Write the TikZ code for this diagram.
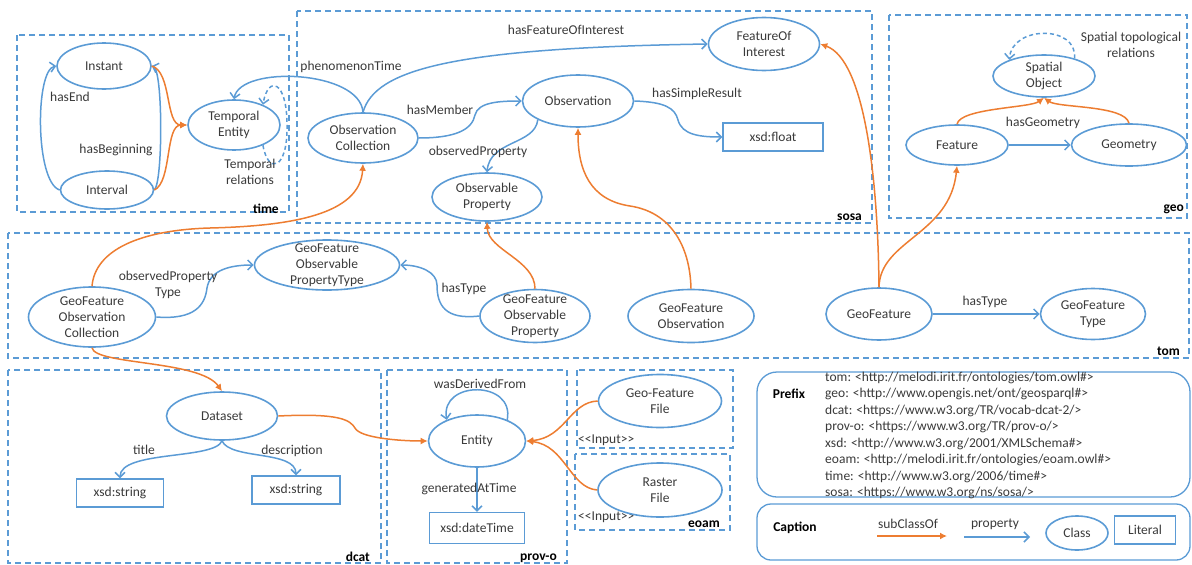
\documentclass[tikz,border=0pt]{standalone}
\usepackage{fontspec}
\setmainfont{Carlito}
\usepackage{tikz}
\usetikzlibrary{shapes.geometric}
\usetikzlibrary{arrows.meta}
\tikzset{>={Straight Barb[length=5pt,width=10pt]}}
\definecolor{ontoblue}{HTML}{5B9BD5}
\definecolor{ontoorange}{HTML}{ED7D31}
\definecolor{txtgray}{HTML}{3A3A3A}

\begin{document}
\begin{tikzpicture}[
    x = 1pt, y = -1pt,
    every node/.style = {font=\fontsize{13.5}{16}\selectfont, text=txtgray},
    cls/.style 2 args = {ellipse, draw=ontoblue, line width=1.6pt, align=center,
        inner xsep=0pt, inner ysep=-12pt, minimum width=#1pt, minimum height=#2pt},
    lit/.style 2 args = {draw=ontoblue, line width=1.3pt, inner sep=0pt,
        minimum width=#1pt, minimum height=#2pt},
    prop/.style = {->, draw=ontoblue, line width=1.5pt},
    sub/.style = {-{Latex[length=7pt,width=7pt]}, draw=ontoorange, line width=1.5pt},
    frame/.style = {draw=ontoblue, dash pattern=on 6pt off 4pt, line width=1.2pt},
    tag/.style = {font=\fontsize{13.5}{16}\selectfont\bfseries, text=black,
        anchor=base east, inner sep=0pt},
    lbl/.style = {inner sep=0pt, align=center}
  ]
  \useasboundingbox (0,0) rectangle (1192,565);

  % frames
  \draw[frame] (17,35) rectangle (289,212);
  \draw[frame] (297,11) rectangle (872,223);
  \draw[frame] (889,15) rectangle (1187,218);
  \draw[frame] (8,233) rectangle (1189,358);
  \draw[frame] (8,370) rectangle (381,563);
  \draw[frame] (387,370) rectangle (567,563);
  \draw[frame] (577,370) rectangle (733,448);
  \draw[frame] (575,454) rectangle (730,530);

  \node[tag] (TAGTIME) at (279,213) {time};
  \node[tag] (TAGSOSA) at (862,220) {sosa};
  \node[tag] (TAGGEO) at (1184,211) {geo};
  \node[tag] (TAGTOM) at (1180,355) {tom};
  \node[tag] (TAGDCAT) at (370,561) {dcat};
  \node[tag] (TAGPROV) at (557,560) {prov-o};
  \node[tag] (TAGEOAM) at (720,527) {eoam};
  \node[anchor=base west, inner sep=0pt] (INPUTA) at (578,443) {<\kern0pt<Input>\kern0pt>};
  \node[anchor=base west, inner sep=0pt] (INPUTB) at (578,520) {<\kern0pt<Input>\kern0pt>};

  % time
  \node[cls={94}{46}] (INSTANT) at (104,66) {Instant};
  \node[cls={93}{38}] (INTERVAL) at (107,190) {Interval};
  \node[cls={92}{50}] (TEMPORAL) at (234,125) {Temporal\\Entity};

  \draw[prop] (INTERVAL.west) .. controls (35,182) and (35,70) .. (INSTANT.west);
  \draw[prop] (INTERVAL.east) .. controls (163,182) and (163,70) .. (INSTANT.east);
  \draw[sub] (INSTANT.east) .. controls (172,72) and (165,125) .. (TEMPORAL.west);
  \draw[sub] (INTERVAL.east) .. controls (172,182) and (165,125) .. (TEMPORAL.west);
  \draw[prop, dash pattern=on 4pt off 3pt] (TEMPORAL.-35) .. controls (268,175) and (288,170) .. (287,125)
    .. controls (287,80) and (268,75) .. (TEMPORAL.35);
  \node[lbl] (hasEnd) at (70,97) {hasEnd};
  \node[lbl] (hasBeginning) at (116,150) {hasBeginning};
  \node[lbl] (temprel) at (250,172) {Temporal\\relations};

  % sosa
  \node[cls={110}{50}] (OBSCOLL) at (363,138) {Observation\\Collection};
  \node[cls={111}{52}] (OBS) at (578,101) {Observation};
  \node[cls={110}{48}] (OBSPROP) at (487,197) {Observable\\Property};
  \node[cls={111}{53}] (FOI) at (764,44) {FeatureOf\\Interest};
  \node[lit={100}{28}] (FLOAT) at (773,137) {xsd:float};

  \draw[prop] (OBSCOLL.north) .. controls (360,70) and (240,65) .. (TEMPORAL.north);
  \draw[prop] (OBSCOLL.north) .. controls (375,70) and (450,48) .. (FOI.west);
  \draw[prop] (OBSCOLL.east) .. controls (455,138) and (472,130) .. (475,115)
    .. controls (478,102) and (500,101) .. (OBS.west);
  \draw[prop] (OBS.-155) .. controls (535,145) and (490,140) .. (OBSPROP.north);
  \draw[prop] (OBS.east) .. controls (665,102) and (675,108) .. (678,120)
    .. controls (682,135) and (700,137) .. (FLOAT.west);
  \node[lbl] (phenomenonTime) at (351,67) {phenomenonTime};
  \node[lbl] (hasFOI) at (566,30) {hasFeatureOfInterest};
  \node[lbl] (hasMember) at (440,110) {hasMember};
  \node[lbl] (observedProperty) at (478,152) {observedProperty};
  \node[lbl] (hasSimpleResult) at (697,94) {hasSimpleResult};

  % geo
  \node[cls={102}{42}] (SPATIAL) at (1044,76) {Spatial\\Object};
  \node[cls={102}{40}] (FEATURE) at (957,145) {Feature};
  \node[cls={115}{42}] (GEOMETRY) at (1129,145) {Geometry};

  \draw[prop, dash pattern=on 4pt off 3pt] (SPATIAL.30) .. controls (1078,25) and (1012,25) .. (SPATIAL.155);
  \draw[sub] (FEATURE.north) .. controls (960,108) and (1030,108) .. (SPATIAL.south);
  \draw[sub] (GEOMETRY.north) .. controls (1125,105) and (1058,108) .. (SPATIAL.south);
  \draw[prop] (FEATURE.east) -- (GEOMETRY.west);
  \node[lbl] (spatrel) at (1131,45) {Spatial topological\\relations};
  \node[lbl] (hasGeometry) at (1043,123) {hasGeometry};

  % tom
  \node[cls={127}{60}] (GFOC) at (92,317) {GeoFeature\\Observation\\Collection};
  \node[cls={145}{50}] (GFOPT) at (327,265) {GeoFeature\\Observable\\PropertyType};
  \node[cls={110}{53}] (GFOP) at (535,316) {GeoFeature\\Observable\\Property};
  \node[cls={126}{53}] (GFO) at (691,316) {GeoFeature\\Observation};
  \node[cls={106}{52}] (GF) at (879,314) {GeoFeature};
  \node[cls={105}{51}] (GFT) at (1093,314) {GeoFeature\\Type};

  \draw[prop] (GFOC.east) .. controls (195,320) and (205,305) .. (207,288)
    .. controls (210,270) and (230,265) .. (GFOPT.west);
  \draw[prop] (GFOP.west) .. controls (445,320) and (437,305) .. (437,285)
    .. controls (437,272) and (420,265) .. (GFOPT.east);
  \draw[prop] (GF.east) -- (GFT.west);
  \draw[sub] (GFOC.north) .. controls (95,250) and (140,230) .. (210,228)
    .. controls (290,226) and (360,215) .. (OBSCOLL.south);
  \draw[sub] (GFOP.north) .. controls (535,260) and (488,250) .. (OBSPROP.south);
  \draw[sub] (GFO.north) .. controls (690,245) and (670,212) .. (630,206)
    .. controls (590,200) and (578,170) .. (OBS.south);
  \draw[sub] (GF.north) .. controls (878,180) and (865,60) .. (FOI.east);
  \draw[sub] (GF.north) .. controls (880,240) and (950,235) .. (FEATURE.south);
  \node[lbl] (obsPropType) at (168,285) {observedProperty\\Type};
  \node[lbl] (hasTypeA) at (464,289) {hasType};
  \node[lbl] (hasTypeB) at (985,302) {hasType};

  % dcat
  \node[cls={111}{48}] (DATASET) at (222,416) {Dataset};
  \node[lit={87}{28}] (STRA) at (120,493) {xsd:string};
  \node[lit={88}{28}] (STRB) at (296,490) {xsd:string};

  \draw[prop] (DATASET.south) .. controls (215,460) and (120,450) .. (STRA.north);
  \draw[prop] (DATASET.south) .. controls (230,460) and (296,450) .. (STRB.north);
  \draw[sub] (GFOC.south) .. controls (95,365) and (200,360) .. (DATASET.north);
  \node[lbl] (title) at (144,450) {title};
  \node[lbl] (description) at (292,451) {description};

  % prov-o, eoam
  \node[cls={97}{52}] (ENTITY) at (477,441) {Entity};
  \node[lit={95}{31}] (DATETIME) at (477,528) {xsd:dateTime};
  \node[cls={123}{53}] (GFFILE) at (660,401) {Geo-Feature\\File};
  \node[cls={124}{54}] (RFILE) at (660,490) {Raster\\File};

  \draw[prop] (ENTITY.35) .. controls (515,380) and (440,380) .. (ENTITY.145);
  \draw[prop] (ENTITY.south) -- (DATETIME.north);
  \draw[sub] (DATASET.east) .. controls (340,413) and (350,420) .. (355,428)
    .. controls (360,438) and (400,441) .. (ENTITY.west);
  \draw[sub] (GFFILE.west) .. controls (570,402) and (565,438) .. (ENTITY.east);
  \draw[sub] (RFILE.west) .. controls (570,488) and (565,445) .. (ENTITY.east);
  \node[lbl] (wasDerivedFrom) at (480,384) {wasDerivedFrom};
  \node[lbl] (generatedAtTime) at (469,489) {generatedAtTime};

  % prefix and caption
  \draw[ontoblue, line width=1.3pt, rounded corners=20pt] (757,372) rectangle (1190,497);
  \draw[ontoblue, line width=1.3pt, rounded corners=14pt] (757,504) rectangle (1190,560);
  \node[lbl, font=\fontsize{13.5}{16}\selectfont\bfseries, text=black] (PREFIX) at (789,394) {Prefix};
  \foreach \pfx [count=\k from 0] in {
      tom: <http://melodi.irit.fr/ontologies/tom.owl\#>,
      geo: <http://www.opengis.net/ont/geosparql\#>,
      dcat: <https://www.w3.org/TR/vocab-dcat-2/>,
      prov-o: <https://www.w3.org/TR/prov-o/>,
      xsd: <http://www.w3.org/2001/XMLSchema\#>,
      eoam: <http://melodi.irit.fr/ontologies/eoam.owl\#>,
      time: <http://www.w3.org/2006/time\#>,
      sosa: <https://www.w3.org/ns/sosa/>}
    \node[anchor=base west, inner sep=0pt] (PFX\k) at (825,381+16.57*\k) {\pfx};

  \node[lbl, font=\fontsize{13.5}{16}\selectfont\bfseries, text=black] (CAPTION) at (795,528) {Caption};
  \coordinate (SUBA) at (877,536);
  \coordinate (SUBB) at (947,536);
  \coordinate (PROPA) at (964,537);
  \coordinate (PROPB) at (1030,537);
  \draw[sub] (SUBA) -- (SUBB);
  \draw[prop] (PROPA) -- (PROPB);
  \node[lbl] (subClassOf) at (908,524) {subClassOf};
  \node[lbl] (property) at (995,524) {property};
  \node[cls={62}{34}] (CLASS) at (1077,533) {Class};
  \node[lit={61}{28}] (LITERAL) at (1145,530) {Literal};
\end{tikzpicture}
\end{document}
